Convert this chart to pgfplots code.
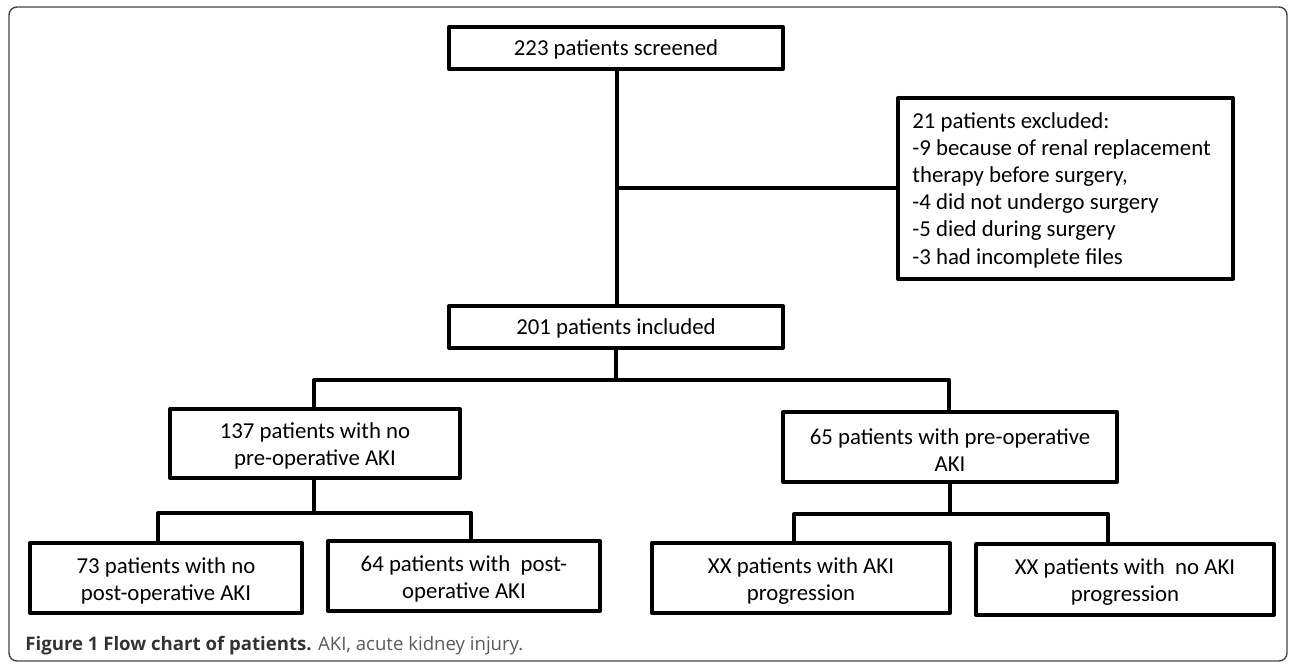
\documentclass[border=0pt]{standalone}
\usepackage{pgfplots}
\pgfplotsset{compat=1.18}
\usepackage{fontspec}
\setmainfont{Carlito}
\newfontfamily\capfont{Open Sans}
\definecolor{capbold}{HTML}{333333}
\definecolor{capreg}{HTML}{5A5A5A}
\definecolor{framec}{HTML}{444444}
\begin{document}
\begin{tikzpicture}
\begin{axis}[
  width=645pt, height=331pt, scale only axis,
  xmin=0, xmax=1290, ymin=0, ymax=662, y dir=reverse,
  hide axis, clip=false,
  ln/.style={black, line width=2pt, mark=none, solid, line join=round, line cap=round},
]
% bounding
\path (axis cs:0,0) rectangle (axis cs:1290,662);
% outer frame
\draw[framec, line width=0.7pt, rounded corners=4pt] (axis cs:9,7) rectangle (axis cs:1287,661);
% boxes
\addplot[ln] coordinates {(449,27) (783,27) (783,69) (449,69) (449,27)};
\addplot[ln] coordinates {(449,306) (783,306) (783,348) (449,348) (449,306)};
\addplot[ln] coordinates {(898,98) (1233,98) (1233,279) (898,279) (898,98)};
\addplot[ln] coordinates {(170,409) (460,409) (460,478) (170,478) (170,409)};
\addplot[ln] coordinates {(783,412) (1117,412) (1117,482) (783,482) (783,412)};
\addplot[ln] coordinates {(30,543) (302,543) (302,613) (30,613) (30,543)};
\addplot[ln] coordinates {(328,541) (600,541) (600,611) (328,611) (328,541)};
\addplot[ln] coordinates {(652,543) (950,543) (950,613) (652,613) (652,543)};
\addplot[ln] coordinates {(976,544) (1274,544) (1274,615) (976,615) (976,544)};
% connectors
\addplot[ln] coordinates {(617,69) (617,306)};
\addplot[ln] coordinates {(617,188) (898,188)};
\addplot[ln] coordinates {(616,348) (616,380)};
\addplot[ln] coordinates {(314,409) (314,380) (949,380) (949,412)};
\addplot[ln] coordinates {(314,478) (314,513)};
\addplot[ln] coordinates {(158,543) (158,513) (471,513) (471,541)};
\addplot[ln] coordinates {(950,482) (950,514)};
\addplot[ln] coordinates {(794,543) (794,514) (1108,514) (1108,544)};
% texts
\tikzset{bt/.style={inner sep=0pt, align=center, font=\fontsize{11.4}{13.3}\selectfont}}
\node[bt] at (axis cs:616,49) {223 patients screened};
\node[bt] at (axis cs:616,328) {201 patients included};
\node[bt, align=left, anchor=west, font=\fontsize{11.4}{13.6}\selectfont] at (axis cs:912,190)
  {21 patients excluded:\\-9 because of renal replacement\\therapy before surgery,\\-4 did not undergo surgery\\-5 died during surgery\\-3 had incomplete files};
\node[bt] at (axis cs:315,446) {137 patients with no\\pre-operative AKI};
\node[bt] at (axis cs:950,450) {65 patients with pre-operative\\AKI};
\node[bt] at (axis cs:166,581) {73 patients with no\\post-operative AKI};
\node[bt] at (axis cs:464,579) {64 patients with\ \ post-\\operative AKI};
\node[bt] at (axis cs:801,581) {XX patients with AKI\\progression};
\node[bt] at (axis cs:1125,582) {XX patients with\ \ no AKI\\progression};
% caption
\node[inner sep=0pt, anchor=west, font=\capfont\fontsize{9.3}{11}\selectfont] at (axis cs:25,646)
  {\textcolor{capbold}{\bfseries Figure 1 Flow chart of patients.} \textcolor{capreg}{AKI, acute kidney injury.}};
\end{axis}
\end{tikzpicture}
\end{document}
